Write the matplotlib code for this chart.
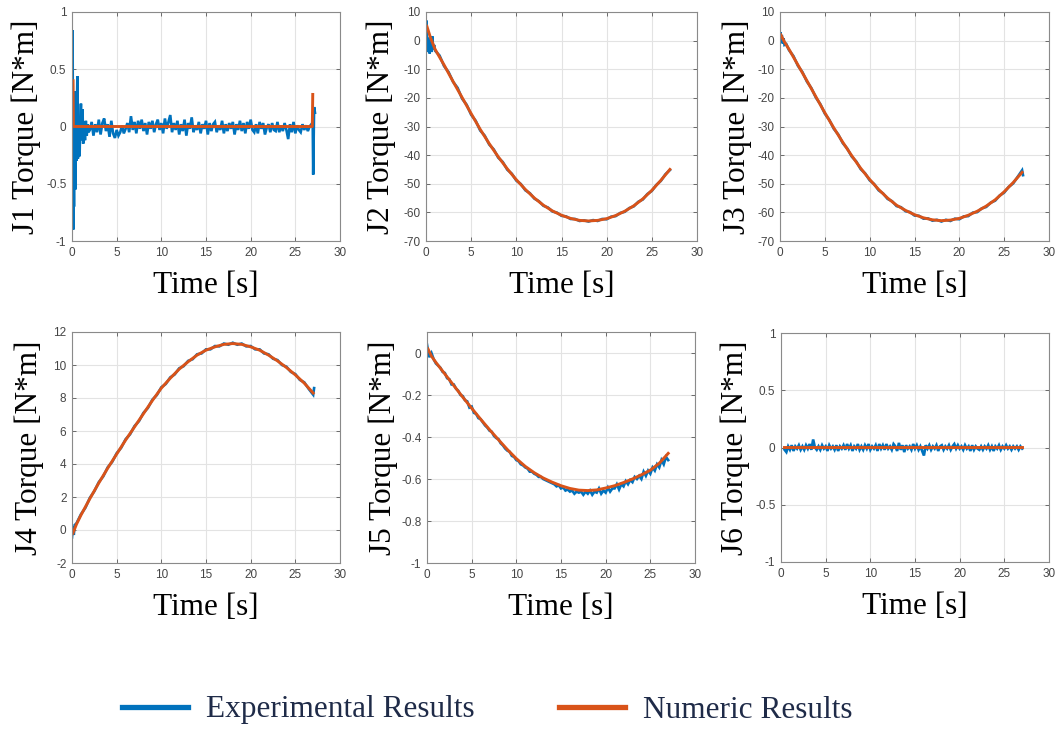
import numpy as np
import matplotlib
matplotlib.use("Agg")
import matplotlib.pyplot as plt
from matplotlib.lines import Line2D

# ---------------- data ----------------
labels = ["J1 Torque [N*m]", "J2 Torque [N*m]", "J3 Torque [N*m]",
          "J4 Torque [N*m]", "J5 Torque [N*m]", "J6 Torque [N*m]"]
xlabel = "Time [s]"
legend_labels = ["Experimental Results", "Numeric Results"]

ylims = [(-1, 1), (-70, 10), (-70, 10), (-2, 12), (-1, 0.1), (-1, 1)]
yticks = [[-1, -0.5, 0, 0.5, 1],
          [-70, -60, -50, -40, -30, -20, -10, 0, 10],
          [-70, -60, -50, -40, -30, -20, -10, 0, 10],
          [-2, 0, 2, 4, 6, 8, 10, 12],
          [-1, -0.8, -0.6, -0.4, -0.2, 0],
          [-1, -0.5, 0, 0.5, 1]]
xticks = [0, 5, 10, 15, 20, 25, 30]

# numeric results (common time base)
t_num = [0.1, 0.5] + list(range(1, 28))
j2_num = [5, 1, -3, -8.5, -14.3, -19.9, -25.5, -31, -36, -40.6, -44.8, -48.6, -52, -55,
          -57.5, -59.5, -61, -62.1, -62.8, -63, -62.8, -62.2, -61.1, -59.6, -57.7,
          -55.3, -52.3, -48.8, -45]
j3_num = [2, -0.5, -3, -8.5, -14, -19.6, -25.2, -30.5, -35.5, -40.2, -44.6, -48.5, -52,
          -55, -57.5, -59.3, -60.8, -61.9, -62.6, -62.9, -62.7, -62.1, -61, -59.6,
          -57.8, -55.6, -52.8, -49.6, -46]
j4_num = [-0.2, 0.35, 0.9, 1.9, 2.85, 3.75, 4.6, 5.45, 6.25, 7.05, 7.85, 8.6, 9.2, 9.75,
          10.2, 10.6, 10.9, 11.1, 11.25, 11.3, 11.25, 11.1, 10.9, 10.6, 10.25, 9.85,
          9.4, 8.9, 8.3]
j5_num = [0.02, -0.015, -0.045, -0.1, -0.155, -0.21, -0.263, -0.315, -0.365, -0.413,
          -0.46, -0.503, -0.54, -0.57, -0.595, -0.615, -0.632, -0.645, -0.653, -0.655,
          -0.652, -0.643, -0.632, -0.617, -0.6, -0.58, -0.558, -0.525, -0.478]
t1_num = [0.12, 0.15, 0.2, 26.9, 26.95]
j1_num = [0.4, 0.0, 0.0, 0.0, 0.28]
t6_num = [0.3, 27.0]
j6_num = [0.005, 0.005]

# experimental results
t1_exp_start = [0.0, 0.07, 0.1, 0.14, 0.18, 0.22, 0.26, 0.3, 0.37, 0.42, 0.48, 0.55,
                0.6, 0.66, 0.72, 0.8, 0.85, 0.92, 1.0, 1.1, 1.18, 1.25, 1.35, 1.45,
                1.55, 1.65, 1.75, 1.85]
j1_exp_start = [-0.62, 0.84, -0.3, -0.9, -0.05, -0.7, 0.31, -0.2, -0.55, 0.1, -0.3,
                0.1, 0.44, -0.28, 0.05, -0.15, -0.26, 0.05, 0.2, -0.12, 0.15, -0.15,
                0.03, -0.12, 0.05, -0.08, 0.02, -0.05]
j1_exp_mid = [-0.03, 0.04, -0.08, 0.02, -0.05, 0.06, -0.07, 0.03, 0.07, -0.04,
              0.02, -0.09, 0.05, -0.06, -0.10, -0.03, -0.08, -0.05, 0.01, -0.06,
              -0.02, 0.03, -0.05, 0.09, -0.03, 0.04, -0.06, 0.05, -0.02, 0.06,
              -0.04, 0.03, -0.07, 0.04, -0.02, 0.05, -0.05, 0.02, 0.06, -0.03,
              0.03, -0.06, 0.07, -0.02, 0.04, 0.10, -0.05, 0.03, -0.03, 0.05,
              -0.07, 0.02, -0.04, 0.06, -0.08, 0.03, -0.02, 0.08, -0.05, 0.01,
              -0.03, 0.04, -0.06, 0.02, -0.02, 0.05, -0.07, 0.03, -0.04, 0.02,
              0.04, -0.05, 0.01, -0.03, 0.05, -0.06, 0.02, -0.04, 0.03, -0.02,
              0.04, -0.07, 0.02, -0.03, 0.05, -0.04, 0.03, -0.06, 0.04, -0.02,
              0.06, -0.03, -0.05, 0.02, -0.06, 0.04, -0.02, 0.03, -0.07, -0.01,
              0.02, -0.05, 0.03, -0.03, -0.04, 0.04, -0.05, 0.01, -0.04, 0.03,
              -0.03, -0.11, 0.02, -0.05, 0.04, -0.06, 0.01, -0.03, -0.05, 0.02,
              -0.03, 0.01, -0.04, 0.00, 0.02]
t1_exp_end = [26.95, 27.0, 27.1, 27.2]
j1_exp_end = [0.0, -0.42, 0.17, 0.12]

t2_exp_start = [0.0, 0.05, 0.1, 0.2, 0.3, 0.4, 0.5, 0.6, 0.7, 0.8, 0.9, 1.0]
j2_exp_start = [0, 7, 2, -4, 1, -4.5, 0, -4, 1.5, -3, -1.5, -3.5]
j2_exp_main = [-5.2, -8.9, -11.0, -14.4, -16.5, -20.3, -22.4, -25.9, -28.0, -31.4,
               -33.2, -36.3, -38.0, -40.9, -42.4, -45.1, -46.5, -48.9, -50.1, -52.3,
               -53.3, -55.2, -56.1, -57.7, -58.3, -59.7, -60.1, -61.2, -61.4, -62.3,
               -62.3, -63.0, -62.8, -63.2, -62.7, -63.0, -62.3, -62.4, -61.5, -61.3,
               -60.2, -59.8, -58.5, -57.9, -56.3, -55.5, -53.6, -52.5, -50.4, -49.0,
               -46.7, -45.2]

t3_exp_start = [0.0, 0.05, 0.1, 0.2, 0.3, 0.4, 0.5, 0.7, 1.0]
j3_exp_start = [0.5, 3, -0.5, 2, -1, 0.8, -1.5, -1.2, -3.3]
j3_exp_main = [-5.4, -8.8, -11.0, -14.3, -16.6, -19.9, -22.2, -25.5, -27.7, -30.8,
               -32.8, -35.8, -37.7, -40.5, -42.2, -44.9, -46.4, -48.8, -50.1, -52.3,
               -53.4, -55.3, -56.1, -57.8, -58.2, -59.6, -59.9, -61.1, -61.2, -62.2,
               -62.1, -62.9, -62.6, -63.2, -62.6, -63.0, -62.2, -62.4, -61.4, -61.3,
               -60.1, -59.9, -58.6, -58.1, -56.6, -55.9, -54.1, -53.1, -51.1, -49.9,
               -47.6, -45.3, -47.0]

t4_exp_start = [0.0, 0.1, 0.2, 0.3, 0.5]
j4_exp_start = [-0.45, 0.2, -0.3, 0.3, 0.4]
j4_exp_main = [0.95, 1.35, 1.95, 2.35, 2.9, 3.25, 3.8, 4.13, 4.65, 4.98,
               5.5, 5.8, 6.3, 6.6, 7.1, 7.4, 7.9, 8.18, 8.65, 8.85,
               9.25, 9.43, 9.8, 9.93, 10.25, 10.35, 10.65, 10.7, 10.95, 10.95,
               11.15, 11.13, 11.3, 11.23, 11.35, 11.23, 11.3, 11.13, 11.15, 10.95,
               10.95, 10.7, 10.65, 10.38, 10.3, 10.0, 9.9, 9.58, 9.45, 9.1,
               8.95, 8.55, 8.2, 8.6]

j5_exp = [0.04, -0.02, 0.0, -0.03,
          -0.05, -0.06, -0.07, -0.09,
          -0.095, -0.12, -0.125, -0.15,
          -0.15, -0.17, -0.18, -0.2,
          -0.205, -0.225, -0.23, -0.26,
          -0.255, -0.285, -0.29, -0.31,
          -0.315, -0.33, -0.345, -0.355,
          -0.37, -0.375, -0.395, -0.405,
          -0.41, -0.43, -0.44, -0.455,
          -0.465, -0.47, -0.49, -0.495,
          -0.51, -0.515, -0.53, -0.535,
          -0.545, -0.55, -0.565, -0.565,
          -0.575, -0.58, -0.59, -0.59,
          -0.6, -0.605, -0.61, -0.615,
          -0.62, -0.625, -0.635, -0.63,
          -0.645, -0.64, -0.655, -0.65,
          -0.66, -0.655, -0.67, -0.66,
          -0.665, -0.66, -0.675, -0.66,
          -0.67, -0.655, -0.675, -0.66,
          -0.665, -0.645, -0.67, -0.655,
          -0.665, -0.64, -0.66, -0.645,
          -0.645, -0.625, -0.65, -0.625,
          -0.635, -0.61, -0.625, -0.605,
          -0.615, -0.59, -0.6, -0.585,
          -0.6, -0.565, -0.585, -0.56,
          -0.575, -0.545, -0.56, -0.53,
          -0.545, -0.51, -0.53, -0.495,
          -0.51]

j6_exp = [-0.02, -0.04, 0.01, -0.02, 0.02, -0.03, 0.01, -0.01, 0.02, -0.02,
          0.01, -0.02, 0.02, -0.01, 0.03, -0.02, 0.07, 0.00, -0.02, 0.01,
          -0.02, 0.02, -0.01, 0.01, -0.03, 0.02, -0.01, 0.01, -0.02, 0.02,
          -0.03, 0.01, -0.01, 0.02, -0.02, 0.03, -0.01, 0.02, -0.03, 0.01,
          -0.01, 0.03, -0.02, 0.01, -0.02, 0.02, -0.01, 0.03, -0.02, 0.01,
          -0.01, 0.02, -0.03, 0.03, -0.01, 0.02, -0.02, 0.03, -0.01, 0.01,
          -0.02, 0.03, 0.01, -0.03, 0.04, -0.02, 0.02, -0.04, 0.02, -0.01,
          0.01, -0.02, 0.03, -0.01, 0.02, -0.02, 0.01, -0.03, -0.07, 0.02,
          -0.01, 0.02, -0.02, 0.01, -0.01, 0.02, -0.03, 0.01, 0.02, -0.02,
          0.01, -0.01, 0.02, -0.02, 0.01, 0.03, -0.01, 0.02, -0.01, 0.01,
          -0.02, 0.02, -0.01, 0.01, -0.03, 0.02, -0.02, 0.01, -0.01, -0.02,
          0.01, -0.02, 0.01, -0.01, 0.02, -0.02, 0.01, -0.03, 0.01, -0.01,
          0.02, -0.02, 0.01, -0.01, 0.02, -0.01, 0.01, -0.02, 0.01, -0.01,
          0.01, -0.02, 0.01, -0.01]

# assemble time bases
t1_exp = t1_exp_start + list(np.linspace(2.0, 26.8, len(j1_exp_mid))) + t1_exp_end
j1_exp = j1_exp_start + j1_exp_mid + j1_exp_end
t2_exp = t2_exp_start + list(np.linspace(1.5, 27.0, len(j2_exp_main)))
j2_exp = j2_exp_start + j2_exp_main
t3_exp = t3_exp_start + list(np.linspace(1.5, 27.0, len(j3_exp_main) - 1)) + [27.1]
j3_exp = j3_exp_start + j3_exp_main
t4_exp = t4_exp_start + list(np.linspace(1.0, 27.0, len(j4_exp_main) - 1)) + [27.1]
j4_exp = j4_exp_start + j4_exp_main
t5_exp = list(np.linspace(0.0, 27.0, len(j5_exp)))
t6_exp = list(np.linspace(0.4, 27.0, len(j6_exp)))

exp_series = [(t1_exp, j1_exp), (t2_exp, j2_exp), (t3_exp, j3_exp),
              (t4_exp, j4_exp), (t5_exp, j5_exp), (t6_exp, j6_exp)]
num_series = [(t1_num, j1_num), (t_num, j2_num), (t_num, j3_num),
              (t_num, j4_num), (t_num, j5_num), (t6_num, j6_num)]

# ---------------- style ----------------
BLUE = "#0072BD"
ORANGE = "#D95319"
W, H = 1063, 729
fig = plt.figure(figsize=(W / 100, H / 100), dpi=100)

# axes boxes in pixels: (left, top, right, bottom)
boxes = [(72, 12, 340, 241), (426, 12, 697, 241), (780, 12, 1049, 241),
         (72, 332, 340, 563), (427, 332, 695, 563), (781, 333, 1049, 562)]
ylabel_x = [12, 366, 722, 15, 368, 720]  # left edge px of y label

for i in range(6):
    l, t, r, b = boxes[i]
    ax = fig.add_axes([l / W, 1 - b / H, (r - l) / W, (b - t) / H])
    te, ye = exp_series[i]
    tn, yn = num_series[i]
    ax.plot(te, ye, color=BLUE, lw=1.9, solid_joinstyle="miter")
    ax.plot(tn, yn, color=ORANGE, lw=2.1)
    ax.set_xlim(0, 30)
    ax.set_ylim(*ylims[i])
    ax.set_xticks(xticks)
    ax.set_yticks(yticks[i])
    ax.set_yticklabels([f"{v:g}" for v in yticks[i]])
    ax.grid(True, color="#e3e3e3", lw=0.8)
    ax.set_axisbelow(True)
    for sp in ax.spines.values():
        sp.set_color("#8a8a8a")
        sp.set_linewidth(0.8)
    ax.tick_params(direction="in", length=3, width=0.7, color="#6a6a6a",
                   top=True, right=True, labelsize=8.5, labelcolor="#454545", pad=4)
    for lab in ax.get_xticklabels() + ax.get_yticklabels():
        lab.set_family("Liberation Sans")
    ax.set_xlabel(xlabel, family="Liberation Serif", fontsize=22.5, color="black")
    ax.xaxis.set_label_coords(0.5, -0.13)
    ax.set_ylabel(labels[i], family="Liberation Serif", fontsize=22.5, color="black")
    lx = (ylabel_x[i] - l) / (r - l)
    ax.yaxis.label.set_verticalalignment("top")
    ax.yaxis.set_label_coords(lx, 0.5)

handles = [Line2D([], [], color=BLUE, lw=3.8), Line2D([], [], color=ORANGE, lw=3.8)]
fig.legend(handles, legend_labels, loc="center", bbox_to_anchor=(0.4586, 1 - 710 / H),
           ncol=2, frameon=False, handlelength=2.1, handletextpad=0.58,
           columnspacing=2.7, prop={"family": "Liberation Serif", "size": 22.5},
           labelcolor="#1f2b48")

fig.savefig("out.png", dpi=100)
